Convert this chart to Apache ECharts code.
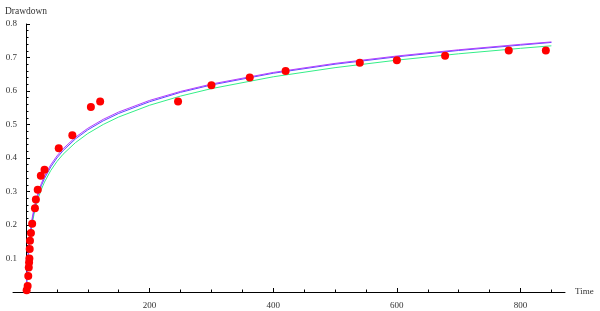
<!DOCTYPE html>
<html>
<head>
<meta charset="utf-8">
<script src="https://cdn.jsdelivr.net/npm/echarts@6/dist/echarts.min.js"></script>
<style>
html,body{margin:0;padding:0;background:#fff;}
#chart{width:600px;height:311px;}
</style>
</head>
<body>
<div id="chart"></div>
<script>
// Observed drawdown points
const pointTimes = [1.1, 2.7, 3.7, 4.5, 5, 5.5, 6, 6.5, 8, 10, 14.5, 16, 19, 24, 30, 53, 75, 105, 120, 246, 300, 362, 420, 540, 600, 678, 781, 841];
const pointDrawdowns = [0.005, 0.018, 0.048, 0.073, 0.088, 0.100, 0.128, 0.153, 0.176, 0.204, 0.250, 0.276, 0.305, 0.347, 0.365, 0.429, 0.468, 0.552, 0.569, 0.569, 0.617, 0.640, 0.660, 0.684, 0.692, 0.705, 0.721, 0.721];

// Fitted curves
const curveTimes = [0.2, 0.5, 1, 1.5, 2, 3, 4, 5, 6, 8, 10, 13, 16, 20, 25, 30, 40, 50, 60, 80, 100, 125, 150, 200, 250, 300, 400, 500, 600, 700, 800, 850];
const curvePurple = [0.0001, 0.0059, 0.0265, 0.0487, 0.0677, 0.1003, 0.1264, 0.148, 0.1663, 0.1964, 0.2206, 0.2496, 0.2731, 0.2986, 0.3244, 0.3457, 0.3795, 0.4059, 0.4276, 0.4619, 0.4886, 0.5154, 0.5373, 0.5719, 0.5987, 0.6207, 0.6554, 0.6824, 0.7044, 0.723, 0.7392, 0.7465];
const curveBlue = [0.0, 0.0045, 0.022, 0.043, 0.061, 0.093, 0.118, 0.140, 0.158, 0.188, 0.213, 0.242, 0.266, 0.292, 0.318, 0.339, 0.373, 0.400, 0.422, 0.457, 0.484, 0.511, 0.533, 0.568, 0.596, 0.618, 0.653, 0.680, 0.702, 0.721, 0.737, 0.745];
const curveGreen = [0.0, 0.0034, 0.019, 0.0376, 0.0551, 0.0854, 0.1103, 0.1312, 0.1491, 0.1788, 0.2028, 0.2317, 0.2552, 0.2809, 0.3069, 0.3283, 0.3624, 0.3892, 0.4112, 0.4458, 0.473, 0.5001, 0.5224, 0.5575, 0.5848, 0.6071, 0.6424, 0.6697, 0.6921, 0.7111, 0.7274, 0.7349];

// Tick values
const xMajorTicks = [200, 400, 600, 800];
const xMinorTicks = [50, 100, 150, 250, 300, 350, 450, 500, 550, 650, 700, 750, 850];
const yMajorTicks = [0.1, 0.2, 0.3, 0.4, 0.5, 0.6, 0.7, 0.8];
const yMinorTicks = [0.02, 0.04, 0.06, 0.08, 0.12, 0.14, 0.16, 0.18, 0.22, 0.24, 0.26, 0.28, 0.32, 0.34, 0.36, 0.38, 0.42, 0.44, 0.46, 0.48, 0.52, 0.54, 0.56, 0.58, 0.62, 0.64, 0.66, 0.68, 0.72, 0.74, 0.76, 0.78];

const zip = (a, b) => a.map((v, i) => [v, b[i]]);
const font = 'Liberation Serif';
const txt = '#333';

const chart = echarts.init(document.getElementById('chart'), null, {renderer: 'canvas'});
const xBase = {
  type: 'value', min: -21, max: 872, gridIndex: 0, position: 'bottom',
  splitLine: {show: false}
};
const yBase = {
  type: 'value', min: 0, max: 0.8, gridIndex: 0, position: 'left', offset: -13,
  splitLine: {show: false}
};
chart.setOption({
  animation: false,
  backgroundColor: '#fff',
  grid: {left: 13, right: 35, top: 24, bottom: 19, containLabel: false, outerBoundsMode: 'none'},
  xAxis: [
    Object.assign({}, xBase, {
      name: 'Time', nameLocation: 'end', nameGap: 10,
      nameTextStyle: {fontFamily: font, fontSize: 9, color: txt, verticalAlign: 'middle'},
      axisLine: {show: true, onZero: false, lineStyle: {color: '#000', width: 1}},
      axisTick: {show: true, inside: true, length: 4, customValues: xMajorTicks, lineStyle: {color: '#000'}},
      axisLabel: {show: true, customValues: xMajorTicks, fontFamily: font, fontSize: 9, color: txt, margin: 9}
    }),
    Object.assign({}, xBase, {
      axisLine: {show: false, onZero: false},
      axisTick: {show: true, inside: true, length: 2.5, customValues: xMinorTicks, lineStyle: {color: '#000'}},
      axisLabel: {show: false}
    })
  ],
  yAxis: [
    Object.assign({}, yBase, {
      name: 'Drawdown', nameLocation: 'end', nameGap: 13,
      nameTextStyle: {fontFamily: font, fontSize: 9.5, color: txt, align: 'center', verticalAlign: 'middle'},
      axisLine: {show: true, onZero: false, lineStyle: {color: '#000', width: 1}},
      axisTick: {show: true, inside: true, length: 4, customValues: yMajorTicks, lineStyle: {color: '#000'}},
      axisLabel: {show: true, customValues: yMajorTicks, fontFamily: font, fontSize: 9, color: txt, margin: 9,
        formatter: v => String(Math.round(v * 10) / 10)}
    }),
    Object.assign({}, yBase, {
      axisLine: {show: false, onZero: false},
      axisTick: {show: true, inside: true, length: 2.5, customValues: yMinorTicks, lineStyle: {color: '#000'}},
      axisLabel: {show: false}
    })
  ],
  series: [
    {type: 'line', xAxisIndex: 0, yAxisIndex: 0, data: zip(curveTimes, curveGreen), showSymbol: false,
      lineStyle: {color: '#33ee88', width: 1}, z: 2, silent: true},
    {type: 'line', xAxisIndex: 0, yAxisIndex: 0, data: zip(curveTimes, curveBlue), showSymbol: false,
      lineStyle: {color: '#5a4cff', width: 1}, z: 3, silent: true},
    {type: 'line', xAxisIndex: 0, yAxisIndex: 0, data: zip(curveTimes, curvePurple), showSymbol: false,
      lineStyle: {color: '#b43cff', width: 1}, z: 4, silent: true},
    {type: 'scatter', xAxisIndex: 0, yAxisIndex: 0, data: zip(pointTimes, pointDrawdowns), symbol: 'circle', symbolSize: 8,
      itemStyle: {color: '#ff0000', opacity: 1}, z: 5, silent: true}
  ]
});
</script>
</body>
</html>
